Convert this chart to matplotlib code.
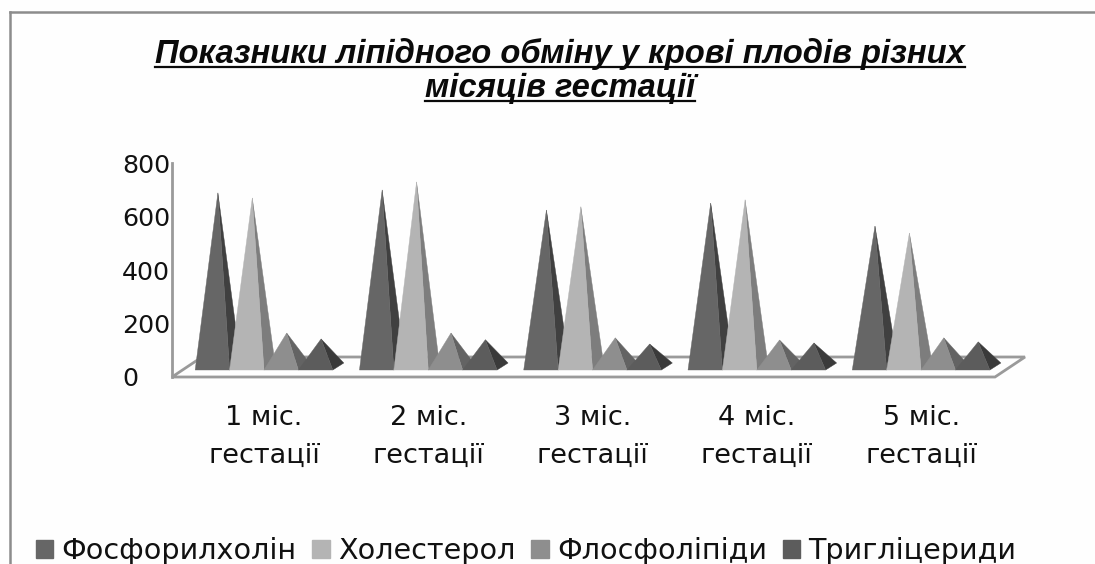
import matplotlib
matplotlib.use("Agg")
import matplotlib.pyplot as plt
from matplotlib.patches import Polygon, Patch
from matplotlib.lines import Line2D

months = ["1 міс.\nгестації", "2 міс.\nгестації", "3 міс.\nгестації", "4 міс.\nгестації", "5 міс.\nгестації"]
names = ["Фосфорилхолін", "Холестерол", "Флосфоліпіди", "Тригліцериди"]
fosforylcholine = [649, 660, 585, 611, 525]
cholesterol = [630, 690, 597, 623, 499]
phospholipids = [125, 125, 107, 99, 107]
triglycerides = [103, 100, 84, 88, 92]
yticks = [0, 200, 400, 600, 800]
title_lines = ["Показники ліпідного обміну у крові плодів різних", "місяців гестації"]

front = ["#666666", "#b4b4b4", "#8e8e8e", "#5c5c5c"]
side = ["#404040", "#7d7d7d", "#636363", "#3a3a3a"]
W, H = 1095, 564

fig = plt.figure(figsize=(W / 100, H / 100), dpi=100, facecolor="#fefefe")
ax = fig.add_axes([172 / W, 1 - 377 / H, (995 - 172) / W, (377 - 163) / H])
ax.set_xlim(-0.56, 4.45)
ax.set_ylim(0, 800)
ax.patch.set_alpha(0)

# how much data one pixel is
px = (4.45 + 0.56) / (995 - 172)
py = 800 / (377 - 163)
bar_w = 34.4 * px

for s in ["top", "right", "bottom"]:
    ax.spines[s].set_visible(False)
ax.spines["left"].set_color("#9a9a9a")
ax.spines["left"].set_linewidth(2)

# floor of the 3d chart
x0, x1 = ax.get_xlim()
floor = Polygon([(x0, 0), (x1, 0), (x1 + 30 * px, 20 * py), (x0 + 30 * px, 20 * py)],
                closed=True, fill=False, ec="#9a9a9a", lw=2, clip_on=False, zorder=1)
ax.add_patch(floor)

series = [fosforylcholine, cholesterol, phospholipids, triglycerides]
z = 2
for i in range(len(months)):
    for j, vals in enumerate(series):
        left = i - 2 * bar_w + j * bar_w
        right = left + bar_w
        base = 7 * py
        apex = ((left + right) / 2 + 5.5 * px, base + 3.5 * py + vals[i])
        corner = (right + 11 * px, base + 7 * py)
        ax.add_patch(Polygon([(right, base), corner, apex], closed=True, fc=side[j], ec=side[j], lw=0.3, clip_on=False, zorder=z))
        ax.add_patch(Polygon([(left, base), (right, base), apex], closed=True, fc=front[j], ec=front[j], lw=0.3, clip_on=False, zorder=z + 1))
        z += 2

ax.set_xticks(range(len(months)))
ax.set_xticklabels(months, fontsize=19.5, family="DejaVu Sans", color="#111111", linespacing=1.6)
ax.set_yticks(yticks)
ax.set_yticklabels(yticks, fontsize=18.2, family="DejaVu Sans", color="#111111", ha="left")
ax.tick_params(axis="x", length=0, pad=20)
ax.tick_params(axis="y", length=0, pad=36)

# title, underlined by hand
baselines = [63, 97]
fig.canvas.draw()
r = fig.canvas.get_renderer()
for line, b in zip(title_lines, baselines):
    t = fig.text(560 / W, 1 - b / H, line, ha="center", va="baseline", color="#0a0a0a",
                 family="Liberation Sans", weight="bold", style="italic", fontsize=23.6)
    e = t.get_window_extent(r)
    fig.add_artist(Line2D([e.x0 / W, e.x1 / W], [1 - (b + 4) / H] * 2, color="#0a0a0a", lw=1.6))

# frame is only seen at left and top
fig.add_artist(Line2D([10 / W, 10 / W], [0, 1 - 12 / H], color="#8c8c8c", lw=1.8))
fig.add_artist(Line2D([10 / W, 1], [1 - 12 / H, 1 - 12 / H], color="#8c8c8c", lw=1.8))

handles = [Patch(fc=c, ec=c) for c in front]
fig.legend(handles, names, loc="lower left", bbox_to_anchor=(33 / W, -0.007), ncol=4, frameon=False,
           prop={"family": "DejaVu Sans", "size": 20.6}, labelcolor="#111111", handlelength=0.6, handleheight=0.6,
           handletextpad=0.3, columnspacing=0.55, borderpad=0.1, borderaxespad=0)

fig.savefig("out.png", dpi=100, facecolor=fig.get_facecolor())
